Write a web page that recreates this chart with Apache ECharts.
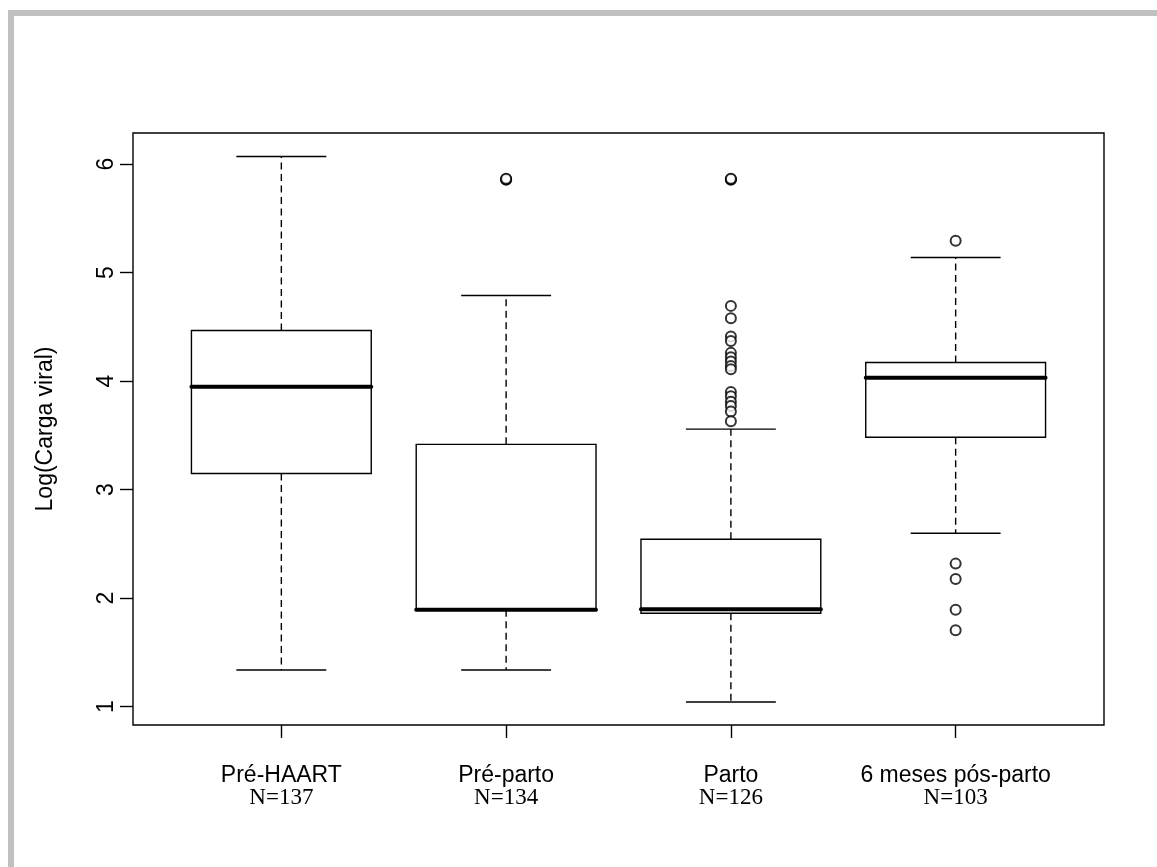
<!DOCTYPE html>
<html>
<head>
<meta charset="utf-8">
<script src="https://cdn.jsdelivr.net/npm/echarts@6/dist/echarts.min.js"></script>
<style>html,body{margin:0;padding:0;background:#fff;}#c{width:1157px;height:867px;}</style>
</head>
<body>
<div id="c"></div>
<script>
// ---- data ----
var categories = ['Pré-HAART', 'Pré-parto', 'Parto', '6 meses pós-parto'];
var countLabels = ['N=137', 'N=134', 'N=126', 'N=103'];
// [min(whisker), Q1, median, Q3, max(whisker)]
var statsPreHaart = [1.338, 3.148, 3.947, 4.466, 6.070];
var statsPreParto = [1.338, 1.894, 1.894, 3.417, 4.789];
var statsParto    = [1.043, 1.861, 1.898, 2.543, 3.557];
var statsPosParto = [2.598, 3.483, 4.030, 4.171, 5.139];
var outPreHaart = [];
var outPreParto = [5.855, 5.860, 5.865];
var outParto = [5.855, 5.860, 5.865, 4.693, 4.580, 4.410, 4.370, 4.260, 4.220, 4.180, 4.140, 4.110, 3.900, 3.860, 3.810, 3.770, 3.720, 3.630];
var outPosParto = [5.293, 2.318, 2.177, 1.894, 1.704];
var yTicks = [1, 2, 3, 4, 5, 6];
var xTicks = [1, 2, 3, 4];

var allStats = [statsPreHaart, statsPreParto, statsParto, statsPosParto];
var allOut = [outPreHaart, outPreParto, outParto, outPosParto];

var boxData = allStats.map(function (s, i) { return [i + 1].concat(s); });
var outData = [];
allOut.forEach(function (arr, i) { arr.forEach(function (v) { outData.push([i + 1, v]); }); });

var BOXW = 0.8, CAPW = 0.4, LW = 1.4;

function renderBox(params, api) {
  var x = api.value(0), mn = api.value(1), q1 = api.value(2), md = api.value(3), q3 = api.value(4), mx = api.value(5);
  var pL = api.coord([x - BOXW / 2, q3]);
  var pR = api.coord([x + BOXW / 2, q1]);
  var cL1 = api.coord([x - CAPW / 2, mx]), cR1 = api.coord([x + CAPW / 2, mx]);
  var cL2 = api.coord([x - CAPW / 2, mn]), cR2 = api.coord([x + CAPW / 2, mn]);
  var cq3 = api.coord([x, q3]), cq1 = api.coord([x, q1]);
  var mL = api.coord([x - BOXW / 2, md]), mR = api.coord([x + BOXW / 2, md]);
  var solid = { stroke: '#000', lineWidth: LW, fill: null };
  var dashed = { stroke: '#000', lineWidth: LW, lineDash: [7, 4.5] };
  return {
    type: 'group',
    children: [
      { type: 'line', shape: { x1: cq3[0], y1: cq3[1], x2: cL1[0] + (cR1[0] - cL1[0]) / 2, y2: cL1[1] }, style: dashed },
      { type: 'line', shape: { x1: cq1[0], y1: cq1[1], x2: cL2[0] + (cR2[0] - cL2[0]) / 2, y2: cL2[1] }, style: dashed },
      { type: 'line', shape: { x1: cL1[0], y1: cL1[1], x2: cR1[0], y2: cR1[1] }, style: solid },
      { type: 'line', shape: { x1: cL2[0], y1: cL2[1], x2: cR2[0], y2: cR2[1] }, style: solid },
      { type: 'rect', shape: { x: pL[0], y: pL[1], width: pR[0] - pL[0], height: pR[1] - pL[1] }, style: { stroke: '#000', lineWidth: LW, fill: '#fff' } },
      { type: 'line', shape: { x1: mL[0], y1: mL[1], x2: mR[0], y2: mR[1] }, style: { stroke: '#000', lineWidth: 4, lineCap: 'round' } }
    ]
  };
}

var chart = echarts.init(document.getElementById('c'), null, { renderer: 'canvas' });
chart.setOption({
  backgroundColor: '#fff',
  animation: false,
  graphic: [
    { type: 'rect', shape: { x: 8, y: 10, width: 1149, height: 6 }, style: { fill: '#c0c0c0' }, silent: true },
    { type: 'rect', shape: { x: 8, y: 10, width: 6, height: 857 }, style: { fill: '#c0c0c0' }, silent: true }
  ],
  grid: { left: 133, right: 53, top: 133, bottom: 142, show: true, borderColor: '#000', borderWidth: LW, backgroundColor: 'transparent' },
  xAxis: {
    type: 'value', min: 0.34, max: 4.66,
    splitLine: { show: false },
    axisLine: { show: false },
    axisTick: { show: true, length: 13, customValues: xTicks, lineStyle: { color: '#000', width: LW } },
    axisLabel: {
      customValues: xTicks, margin: 40, lineHeight: 22,
      formatter: function (v) { var i = Math.round(v) - 1; return '{a|' + categories[i] + '}\n{b|' + countLabels[i] + '}'; },
      rich: {
        a: { fontFamily: 'Liberation Sans, Arial', fontSize: 23, color: '#000', lineHeight: 22 },
        b: { fontFamily: 'Liberation Serif, Times New Roman', fontSize: 23, color: '#000', lineHeight: 22 }
      }
    }
  },
  yAxis: {
    type: 'value', min: 0.831, max: 6.286,
    name: 'Log(Carga viral)', nameLocation: 'middle', nameRotate: 90, nameGap: 76,
    nameTextStyle: { fontFamily: 'Liberation Sans, Arial', fontSize: 23, color: '#000' },
    splitLine: { show: false },
    axisLine: { show: false },
    axisTick: { show: true, length: 13, customValues: yTicks, lineStyle: { color: '#000', width: LW } },
    axisLabel: { customValues: yTicks, rotate: 90, margin: 15, fontFamily: 'Liberation Sans, Arial', fontSize: 23, color: '#000' }
  },
  series: [
    { type: 'custom', renderItem: renderBox, data: boxData, encode: { x: 0, y: [1, 2, 3, 4, 5] }, z: 2 },
    { type: 'scatter', data: outData, symbol: 'emptyCircle', symbolSize: 10, itemStyle: { color: '#000', borderColor: '#000', borderWidth: LW }, z: 3 }
  ]
});
</script>
</body>
</html>
